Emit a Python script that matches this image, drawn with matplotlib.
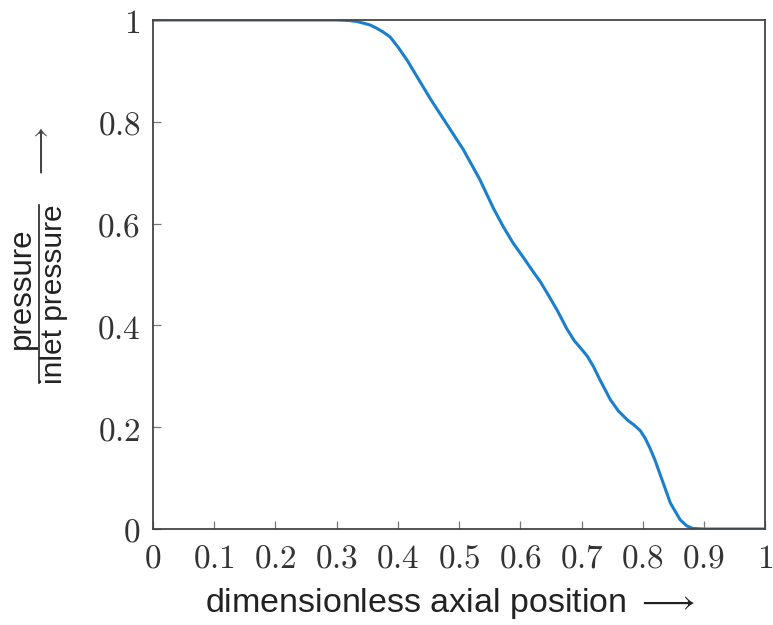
import numpy as np
import matplotlib.pyplot as plt
from matplotlib.lines import Line2D

plt.rcParams['mathtext.fontset'] = 'cm'

# pressure profile along the channel
position = [0.0, 0.1, 0.2, 0.3, 0.32, 0.333, 0.343, 0.355, 0.365, 0.375, 0.387,
            0.40, 0.415, 0.433, 0.453, 0.48, 0.507, 0.534, 0.556, 0.572, 0.588,
            0.604, 0.62, 0.633, 0.644, 0.66, 0.676, 0.688, 0.698, 0.709, 0.719,
            0.73, 0.747, 0.76, 0.775, 0.786, 0.796, 0.804, 0.812, 0.82, 0.828,
            0.845, 0.861, 0.872, 0.882, 0.9, 1.0]
pressure = [1.0, 1.0, 1.0, 1.0, 0.999, 0.997, 0.994, 0.990, 0.984, 0.977, 0.967,
            0.947, 0.921, 0.885, 0.845, 0.795, 0.745, 0.686, 0.630, 0.594, 0.562,
            0.535, 0.507, 0.485, 0.463, 0.430, 0.393, 0.370, 0.356, 0.340, 0.320,
            0.293, 0.254, 0.232, 0.214, 0.204, 0.193, 0.178, 0.158, 0.135, 0.108,
            0.051, 0.018, 0.006, 0.001, 0.0, 0.0]

xticks = [0, 0.1, 0.2, 0.3, 0.4, 0.5, 0.6, 0.7, 0.8, 0.9, 1]
yticks = [0, 0.2, 0.4, 0.6, 0.8, 1]

fig = plt.figure(figsize=(7.73, 6.25), dpi=100)
ax = fig.add_axes([0.198, 0.1536, 0.792, 0.8144])

ax.plot(position, pressure, color='#1a7fcc', lw=2.2, solid_capstyle='round',
        solid_joinstyle='round')
ax.set_xlim(0, 1)
ax.set_ylim(0, 1)

def fmt(v):
    return r'$%g$' % v

ax.set_xticks(xticks)
ax.set_xticklabels([fmt(v) for v in xticks])
ax.set_yticks(yticks)
ax.set_yticklabels([fmt(v) for v in yticks])
ax.tick_params(direction='in', length=6, width=0.9, color='#777777',
               labelsize=24, labelcolor='#333333', pad=9)
for sp in ax.spines.values():
    sp.set_color('#444444')
    sp.set_linewidth(1.3)

# x label with arrow
fig.text(450 / 773, 13 / 625, r'dimensionless axial position $\longrightarrow$',
         ha='center', va='baseline', fontsize=24.5, family='Liberation Sans',
         color='#222222')

# y label: pressure over inlet pressure, with arrow
fig.text(22 / 773, 1 - 288 / 625, 'pressure', rotation=90, ha='center',
         va='center', fontsize=22.5, family='Liberation Sans', color='#222222')
fig.text(54 / 773, 1 - 294 / 625, 'inlet pressure', rotation=90, ha='center',
         va='center', fontsize=21.5, family='Liberation Sans', color='#222222')
fig.add_artist(Line2D([38.5 / 773, 38.5 / 773], [1 - 383 / 625, 1 - 205 / 625],
                      transform=fig.transFigure, color='#222222', lw=1.2))
fig.text(40 / 773, 1 - 153 / 625, r'$\longrightarrow$', rotation=90, ha='center',
         va='center', fontsize=22, color='#444444')

fig.savefig('out.png', dpi=100)
